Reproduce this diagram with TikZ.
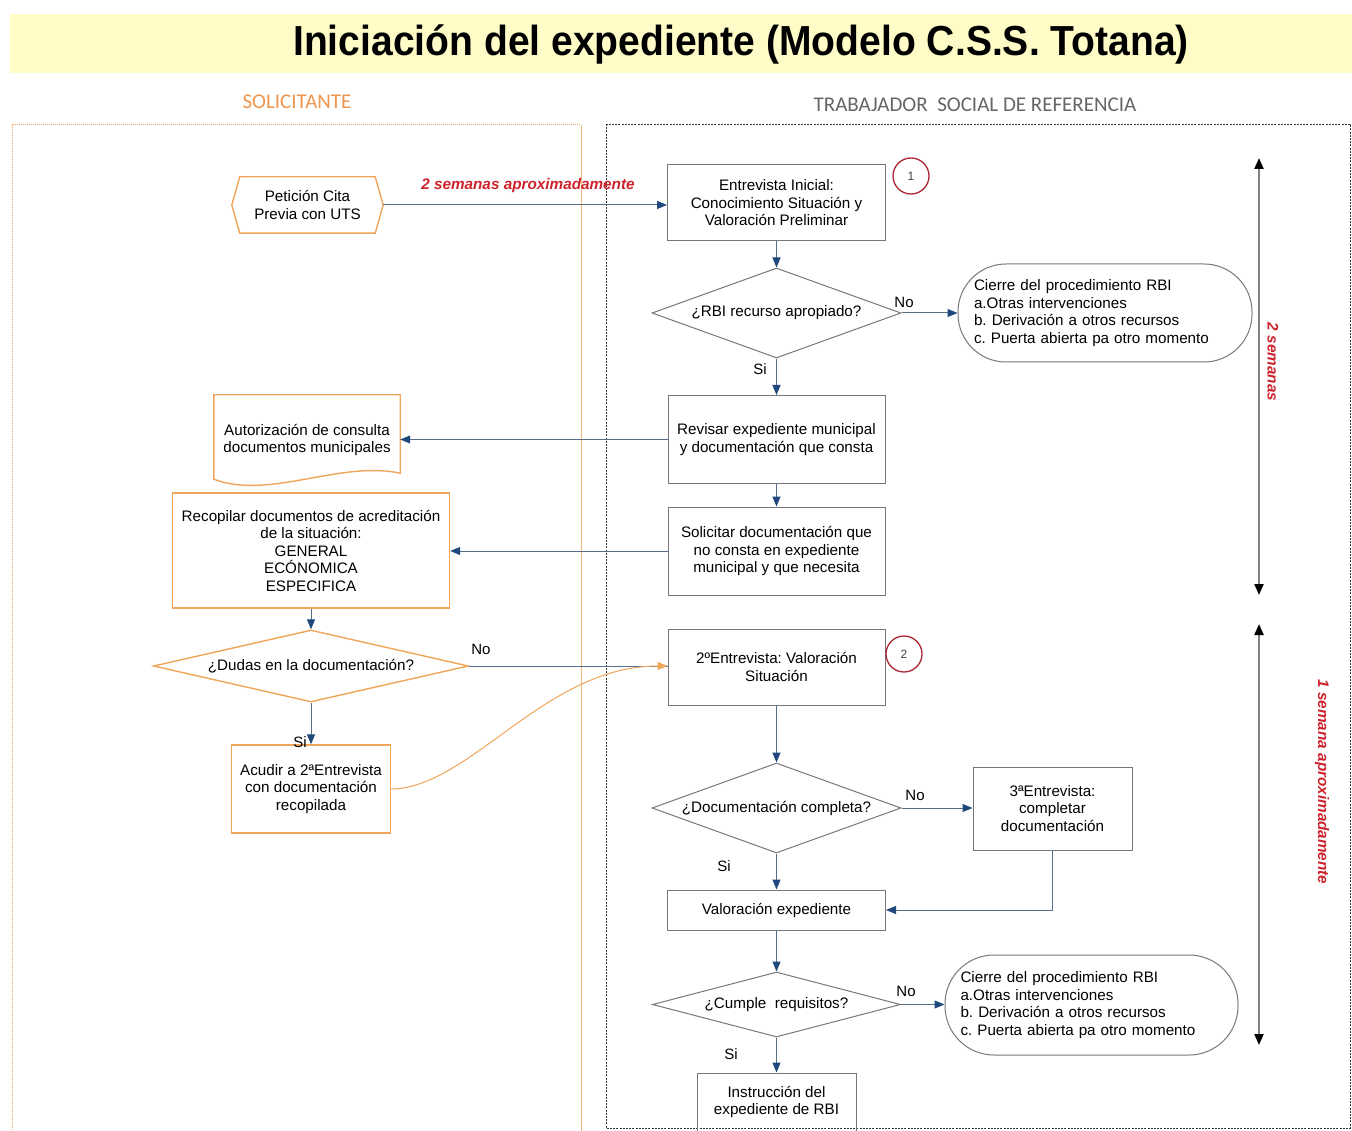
\documentclass[tikz,border=0pt]{standalone}
\usepackage{fontspec}
\setmainfont{Liberation Sans}
\newfontfamily\calibri{Carlito}
\usetikzlibrary{arrows.meta,shapes.geometric,calc}
\frenchspacing
\definecolor{orng}{RGB}{240,165,90}
\definecolor{lanelab}{RGB}{236,150,80}
\definecolor{boxgray}{RGB}{120,120,120}
\definecolor{linec}{RGB}{85,110,140}
\definecolor{headc}{RGB}{31,73,125}
\definecolor{redt}{RGB}{205,35,45}
\definecolor{circr}{RGB}{170,40,50}
\definecolor{titlebg}{RGB}{255,252,200}
\tikzset{
  txt/.style={font=\fontsize{15.2}{17.5}\selectfont, align=center, inner sep=0pt},
  gbox/.style={txt, draw=boxgray, line width=1pt, rectangle},
  obox/.style={txt, draw=orng, line width=1.4pt, rectangle},
  gdia/.style={txt, draw=boxgray, line width=1pt, diamond},
  odia/.style={txt, draw=orng, line width=1.4pt, diamond},
  stad/.style={txt, draw=boxgray, line width=1pt, rectangle, align=left, text width=262pt},
  arr/.style={draw=linec, line width=1pt, -{Triangle[width=8pt,length=10pt,fill=headc,color=headc]}},
  plainline/.style={draw=linec, line width=1pt},
  oarr/.style={draw=orng, line width=1pt, -{Triangle[width=8pt,length=10pt,fill=orng,color=orng]}},
  tarrow/.style={draw=gray, line width=2.2pt, {Triangle[width=9pt,length=11pt,fill=black,color=black]}-{Triangle[width=9pt,length=11pt,fill=black,color=black]}},
  lab/.style={font=\fontsize{15}{16}\selectfont, inner sep=0pt},
  redlab/.style={font=\fontsize{15.3}{17}\selectfont\bfseries\itshape, text=redt, inner sep=0pt},
  num/.style={circle, draw=circr, line width=1.3pt, minimum size=36pt, inner sep=0pt, font=\fontsize{12}{13}\selectfont, text=darkgray}
}
\begin{document}
\begin{tikzpicture}[x=1pt,y=-1pt]
\useasboundingbox (0,0) rectangle (1352,1131);
\fill[white] (0,0) rectangle (1352,1131);
% title band
\fill[titlebg] (10,14) rectangle (1352,73);
\node[inner sep=0pt] (title) at (741,44) {\scalebox{0.93}[1]{\fontsize{42}{46}\selectfont\bfseries Iniciación del expediente (Modelo C.S.S. Totana)}};
% lanes
\node[inner sep=0pt, text=lanelab, font=\calibri\fontsize{21}{24}\selectfont] (l1) at (297,102) {SOLICITANTE};
\node[inner sep=0pt, text=gray!80!black, font=\calibri\fontsize{21}{24}\selectfont] (l2) at (975,105) {TRABAJADOR\ \ SOCIAL DE REFERENCIA};
\draw[orng, line width=1pt, densely dotted] (12,1140) -- (12,125) -- (581,125);
\draw[orng!80, line width=0.9pt] (581,125) -- (581,1140);
\draw[black!80, line width=0.7pt, dash pattern=on 2pt off 1.2pt] (606,124) rectangle (1350,1128);

% left lane nodes
\node[txt, minimum width=151pt, minimum height=56pt] (pet) at (307.5,205) {Petición Cita\\Previa con UTS};
\draw[orng, line width=1.4pt] ($(pet.north west)+(8,0)$) -- ($(pet.north east)+(-8,0)$) -- (pet.east) -- ($(pet.south east)+(-8,0)$) -- ($(pet.south west)+(8,0)$) -- (pet.west) -- cycle;

\node[txt, minimum width=186pt, minimum height=90pt] (aut) at (307,440) {Autorización de consulta\\documentos municipales};
\draw[orng, line width=1.4pt] (aut.north west) -- (aut.north east) -- ($(aut.south east)+(0,-12)$) .. controls ($(aut.south east)+(-60,-25)$) and ($(aut.south west)+(55,15)$) .. ($(aut.south west)+(0,-6)$) -- cycle;

\node[obox, minimum width=277pt, minimum height=115pt] (rec) at (311,550.5) {Recopilar documentos de acreditación\\de la situación:\\GENERAL\\ECÓNOMICA\\ESPECIFICA};
\node[odia, aspect=4.375, minimum width=315pt, minimum height=72pt] (dud) at (311,666) {¿Dudas en la documentación?};
\node[obox, minimum width=159pt, minimum height=88pt] (acu) at (311,789) {Acudir a 2ªEntrevista\\con documentación\\recopilada};

% right lane nodes
\node[gbox, minimum width=218pt, minimum height=76pt] (e1) at (776.5,203) {Entrevista Inicial:\\Conocimiento Situación y\\Valoración Preliminar};
\node[num] (c1) at (911,176) {1};
\node[gdia, aspect=2.77, minimum width=249pt, minimum height=90pt] (d1) at (776.5,313) {¿RBI recurso apropiado?};
\node[stad, minimum width=294pt, minimum height=98pt, rounded corners=48pt] (cl1) at (1105,313) {Cierre del procedimiento RBI\\a.Otras intervenciones\\b. Derivación a otros recursos\\c. Puerta abierta pa otro momento};
\node[gbox, minimum width=217pt, minimum height=88pt] (rev) at (776.5,439.5) {Revisar expediente municipal\\y documentación que consta};
\node[gbox, minimum width=217pt, minimum height=88pt] (sol) at (776.5,551) {Solicitar documentación que\\no consta en expediente\\municipal y que necesita};
\node[gbox, minimum width=217pt, minimum height=76pt] (e2) at (776.5,667) {2ºEntrevista: Valoración\\Situación};
\node[num] (c2) at (904,654) {2};
\node[gdia, aspect=2.77, minimum width=249pt, minimum height=90pt] (d2) at (776.5,808) {¿Documentación completa?};
\node[gbox, minimum width=159pt, minimum height=83pt] (e3) at (1052.5,808.5) {3ªEntrevista:\\completar\\documentación};
\node[gbox, minimum width=218pt, minimum height=40pt] (val) at (776.5,910) {Valoración expediente};
\node[gdia, aspect=3.815, minimum width=248pt, minimum height=65pt] (d3) at (776.5,1004.5) {¿Cumple\ \ requisitos?};
\node[stad, minimum width=293pt, minimum height=100pt, rounded corners=49pt] (cl2) at (1091.5,1005) {Cierre del procedimiento RBI\\a.Otras intervenciones\\b. Derivación a otros recursos\\c. Puerta abierta pa otro momento};
\node[gbox, minimum width=159pt, minimum height=58pt] (ins) at (776.5,1102) {Instrucción del\\expediente de RBI};

% connectors
\draw[arr] (pet.east) -- (pet.east -| e1.west);
\node[redlab] (lbl2s) at (528,186) {2 semanas aproximadamente};
\draw[arr] (e1) -- (d1);
\draw[arr] (d1) -- (cl1.west |- d1.east);
\draw[arr] (d1) -- (rev);
\draw[arr] (rev.west) -- (rev.west -| aut.east);
\draw[arr] (rev) -- (sol);
\draw[arr] (sol.west) -- (sol.west -| rec.east);
\draw[arr] (rec) -- (dud);
\draw[plainline] (dud.east) -- (dud.east -| e2.west);
\draw[arr] (dud) -- (acu);
\draw[oarr] (acu.east) .. controls (470,788) and (545,666) .. (dud.east -| e2.west);
\draw[arr] (e2) -- (d2);
\draw[arr] (d2) -- (d2.east -| e3.west);
\draw[arr] (d2) -- (val);
\draw[arr] (e3.south) |- (val.east);
\draw[arr] (val) -- (d3);
\draw[arr] (d3) -- (d3.east -| cl2.west);
\draw[arr] (d3) -- (ins);

% branch labels
\node[lab] (n1) at (904,302) {No};
\node[lab] (s1) at (760,369) {Si};
\node[lab] (n2) at (481,649) {No};
\node[lab] (s2) at (300,742) {Si};
\node[lab] (n3) at (915,795) {No};
\node[lab] (s3) at (724,866) {Si};
\node[lab] (n4) at (906,991) {No};
\node[lab] (s4) at (731,1054) {Si};

% time arrows
\coordinate (t1a) at (1259,158);
\coordinate (t1b) at (1259,595);
\coordinate (t2a) at (1259,624);
\coordinate (t2b) at (1259,1045);
\draw[tarrow] (t1a) -- (t1b);
\draw[tarrow] (t2a) -- (t2b);
\node[redlab, rotate=-90] (w2) at (1273,362) {2 semanas};
\node[redlab, rotate=-90] (w1) at (1322,782) {1 semana aproximadamente};
\end{tikzpicture}
\end{document}
